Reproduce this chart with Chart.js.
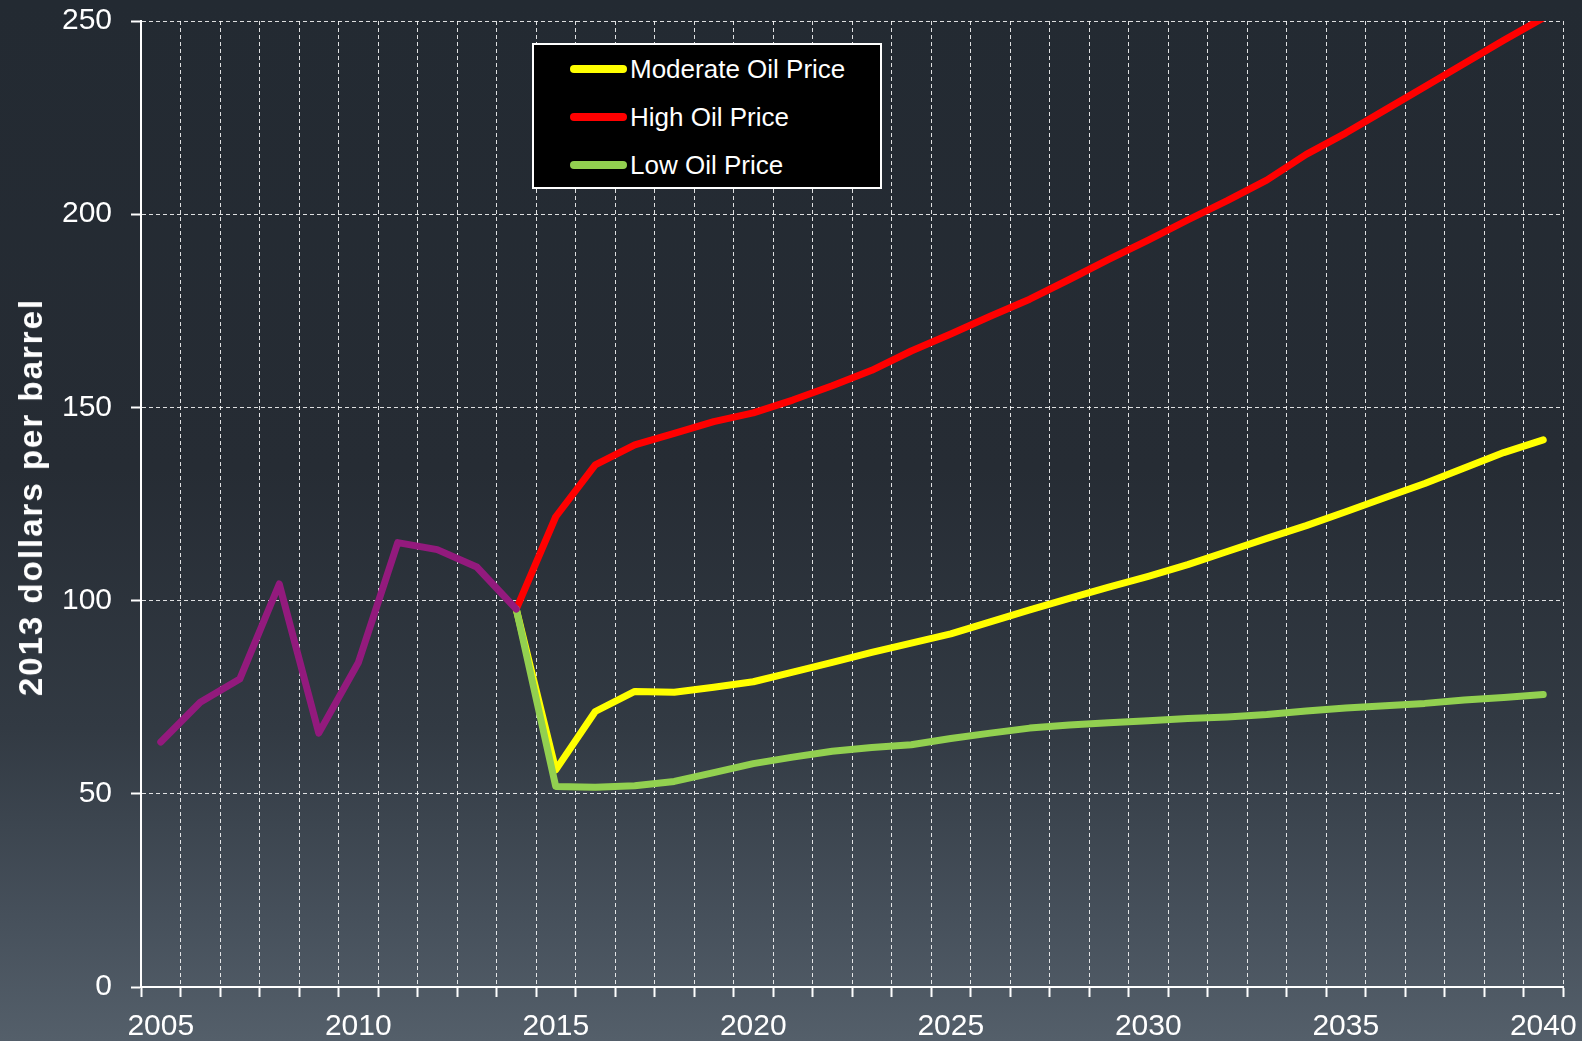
<!DOCTYPE html>
<html>
<head>
<meta charset="utf-8">
<title>Oil price scenarios</title>
<script src="https://cdn.jsdelivr.net/npm/chart.js@4.4.1/dist/chart.umd.min.js"></script>
<style>
    html, body {
        margin: 0;
        padding: 0;
    }
    body {
        width: 1582px;
        height: 1041px;
        overflow: hidden;
        background: linear-gradient(to bottom, #232a32 0%, #262c34 45%, #323a43 70%, #46505b 88%, #545f6a 100%);
        font-family: "Liberation Sans", Arial, sans-serif;
    }
    .wrap {
        position: relative;
        width: 1582px;
        height: 1041px;
    }
    #myChart {
        position: absolute;
        left: 0;
        top: 0;
    }
    .judul-y {
        position: absolute;
        left: 31px;
        top: 497px;
        transform: translate(-50%, -50%) rotate(-90deg);
        white-space: nowrap;
        color: #ffffff;
        font-weight: bold;
        font-size: 33px;
        letter-spacing: 2px;
    }
    .legenda {
        position: absolute;
        left: 532px;
        top: 43px;
        width: 350px;
        height: 146px;
        box-sizing: border-box;
        border: 2px solid #ffffff;
        background: #000000;
    }
    .legenda .baris {
        height: 48px;
        display: flex;
        align-items: center;
        color: #ffffff;
        font-size: 26px;
    }
    .legenda .garis {
        width: 57px;
        height: 8px;
        border-radius: 4px;
        margin-left: 36px;
        margin-right: 3px;
    }
</style>
</head>
<body>
<div class="wrap">
    <canvas id="myChart" width="1582" height="1041"></canvas>
    <div class="judul-y">2013 dollars per barrel</div>
    <div class="legenda" id="legenda"></div>
</div>

<script>
// ------------------------------ Data -----------------------------------
// tahun (kategori sumbu x)
const years = [];
for (let t = 2005; t <= 2040; t++) {
    years.push(String(t));
}

// label sumbu y
const yTicks = [0, 50, 100, 150, 200, 250];

// harga historis 2005 - 2014
const historyPrice = [63.4, 73.7, 79.7, 104.3, 65.7, 83.9, 115.0, 113.2, 108.7, 97.8];

// proyeksi 2014 - 2040
const moderatePrice = [97.8, 56.2, 71.3, 76.5, 76.3, 77.6, 79.0, 81.5, 84.0, 86.6,
    89.0, 91.4, 94.5, 97.6, 100.6, 103.5, 106.3, 109.3, 112.7, 116.1,
    119.4, 123.0, 126.7, 130.3, 134.3, 138.3, 141.6];
const highPrice = [97.8, 121.7, 135.1, 140.3, 143.3, 146.3, 148.6, 151.9, 155.6, 159.6,
    164.6, 169.0, 173.6, 178.0, 183.1, 188.3, 193.3, 198.5, 203.5, 208.8,
    215.5, 221.0, 227.0, 233.0, 239.0, 245.0, 250.8];
const lowPrice = [97.8, 51.9, 51.7, 52.1, 53.2, 55.5, 57.8, 59.5, 61.0, 62.0,
    62.7, 64.3, 65.7, 67.0, 67.8, 68.4, 68.9, 69.5, 69.9, 70.5,
    71.4, 72.2, 72.8, 73.4, 74.3, 74.9, 75.7];

const seriesNames = ['Moderate Oil Price', 'High Oil Price', 'Low Oil Price'];
const seriesColors = ['#ffff00', '#ff0000', '#92d050'];
const historyColor = '#931a7d';

// Fungsi untuk menaruh data pada tahun yang benar (sisanya null)
function fillYears(values, startYear) {
    const out = years.map(() => null);
    const start = years.indexOf(String(startYear));
    values.forEach((v, i) => {
        out[start + i] = v;
    });
    return out;
}

// ------------------------------ Legend ---------------------------------
const legenda = document.getElementById('legenda');
seriesNames.forEach((name, i) => {
    legenda.innerHTML += `<div class="baris">
                            <div class="garis" style="background:${seriesColors[i]}"></div>
                            <span>${name}</span>
                          </div>`;
});

// ------------------------------ Chart ----------------------------------
const gridColor = 'rgba(255, 255, 255, 0.85)';
const tickFont = { family: '"Liberation Sans", Arial, sans-serif', size: 30 };

function lineSet(label, data, color) {
    return {
        label: label,
        data: data,
        borderColor: color,
        backgroundColor: color,
        borderWidth: 7,
        pointRadius: 0,
        tension: 0,
        fill: false,
        spanGaps: false,
        borderCapStyle: 'round',
        borderJoinStyle: 'round'
    };
}

// urutan: dataset pertama digambar paling atas
const datasets = [
    lineSet('History', fillYears(historyPrice, 2005), historyColor),
    lineSet(seriesNames[2], fillYears(lowPrice, 2014), seriesColors[2]),
    lineSet(seriesNames[1], fillYears(highPrice, 2014), seriesColors[1]),
    lineSet(seriesNames[0], fillYears(moderatePrice, 2014), seriesColors[0])
];

const ctx = document.getElementById('myChart').getContext('2d');
const myChart = new Chart(ctx, {
    type: 'line',
    data: {
        labels: years,
        datasets: datasets
    },
    options: {
        responsive: false,
        animation: false,
        layout: {
            padding: { top: 21, right: 19, left: 0, bottom: 0 }
        },
        plugins: {
            legend: { display: false },
            tooltip: { enabled: false }
        },
        scales: {
            x: {
                type: 'category',
                offset: true,
                grid: {
                    offset: true,
                    color: gridColor,
                    lineWidth: 1,
                    tickLength: 10,
                    tickColor: '#ffffff',
                    tickWidth: 2,
                    tickBorderDash: []
                },
                border: {
                    display: true,
                    color: '#ffffff',
                    width: 2,
                    dash: [4, 3]
                },
                ticks: {
                    autoSkip: false,
                    maxRotation: 0,
                    minRotation: 0,
                    padding: 12,
                    color: '#ffffff',
                    font: tickFont,
                    callback: function(value, index) {
                        const label = years[index];
                        return Number(label) % 5 === 0 ? label : '';
                    }
                },
                afterFit: function(scale) {
                    scale.height = 54;
                    scale.paddingLeft = 0;
                    scale.paddingRight = 0;
                }
            },
            y: {
                min: yTicks[0],
                max: yTicks[yTicks.length - 1],
                afterBuildTicks: function(scale) {
                    scale.ticks = yTicks.map(v => ({ value: v }));
                },
                grid: {
                    color: gridColor,
                    lineWidth: 1,
                    tickLength: 10,
                    tickColor: '#ffffff',
                    tickWidth: 2,
                    tickBorderDash: []
                },
                border: {
                    display: true,
                    color: '#ffffff',
                    width: 2,
                    dash: [4, 3]
                },
                ticks: {
                    padding: 19,
                    color: '#ffffff',
                    font: tickFont
                },
                afterFit: function(scale) {
                    scale.width = 141;
                    scale.paddingTop = 0;
                    scale.paddingBottom = 0;
                }
            }
        }
    }
});
</script>
</body>
</html>
